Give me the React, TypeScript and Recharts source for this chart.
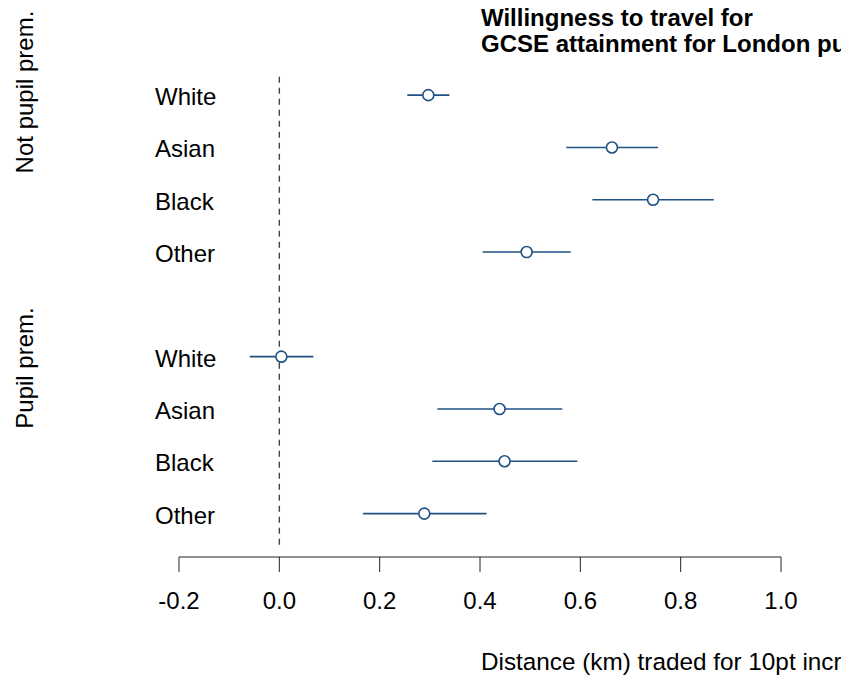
import React from 'react';
import { ErrorBar, ReferenceLine, Scatter, ScatterChart, XAxis, YAxis } from 'recharts';

const groups = ['Not pupil prem.', 'Pupil prem.'];
const categories = ['White', 'Asian', 'Black', 'Other'];

// point estimate and 95% interval, one array per group
const notPpEst = [0.297, 0.663, 0.745, 0.493];
const notPpLow = [0.255, 0.572, 0.624, 0.405];
const notPpHigh = [0.339, 0.755, 0.866, 0.581];

const ppEst = [0.004, 0.439, 0.449, 0.289];
const ppLow = [-0.059, 0.315, 0.305, 0.167];
const ppHigh = [0.068, 0.564, 0.594, 0.413];

const xTicks = [-0.2, 0, 0.2, 0.4, 0.6, 0.8, 1.0];

const FONT = '"Liberation Sans", Arial, sans-serif';
const BLUE = '#1f5283';
const FS = 24;

const build = (g: number, est: number[], low: number[], high: number[]) =>
  categories.map((cat, i) => ({
    cat,
    group: groups[g],
    row: g * 5 + i,
    est: est[i],
    err: [est[i] - low[i], high[i] - est[i]],
  }));

const data = [...build(0, notPpEst, notPpLow, notPpHigh), ...build(1, ppEst, ppLow, ppHigh)];
const rowTicks = data.map((d) => d.row);

const CategoryTick = (props: any) => {
  const { y, payload } = props;
  const d = data.find((r) => r.row === payload.value);
  return (
    <text x={155} y={y} dy={10} fontSize={FS} fontFamily={FONT} fill="#000" textAnchor="start">
      {d ? d.cat : ''}
    </text>
  );
};

const OpenCircle = (props: any) => (
  <circle cx={props.cx} cy={props.cy} r={5.5} fill="#fff" stroke={BLUE} strokeWidth={1.6} />
);

export default function App() {
  return (
    <div
      style={{
        position: 'absolute',
        left: 0,
        top: 0,
        width: 841,
        height: 675,
        overflow: 'hidden',
        background: '#fff',
        fontFamily: FONT,
      }}
    >
      <ScatterChart width={841} height={675} margin={{ top: 69, right: 60, left: 0, bottom: 0 }}>
        <XAxis
          type="number"
          dataKey="est"
          domain={[-0.2, 1.0]}
          ticks={xTicks}
          tickFormatter={(v: number) => v.toFixed(1)}
          tickSize={15}
          tickMargin={20}
          height={118}
          stroke="#222"
          tick={{ fontSize: FS, fill: '#000', fontFamily: FONT }}
          allowDataOverflow
        />
        <YAxis
          type="number"
          dataKey="row"
          domain={[-0.5, 8.83]}
          reversed
          ticks={rowTicks}
          interval={0}
          width={179}
          axisLine={false}
          tickLine={false}
          tick={<CategoryTick />}
        />
        <ReferenceLine
          segment={[
            { x: 0, y: -0.35 },
            { x: 0, y: 8.65 },
          ]}
          stroke="#444"
          strokeWidth={1.4}
          strokeDasharray="6 5"
        />
        <Scatter data={data} shape={<OpenCircle />} isAnimationActive={false}>
          <ErrorBar dataKey="err" direction="x" width={0} stroke={BLUE} strokeWidth={1.6} />
        </Scatter>
      </ScatterChart>

      <div
        style={{
          position: 'absolute',
          left: 481,
          top: 5,
          fontWeight: 'bold',
          fontSize: 24,
          lineHeight: '26px',
          whiteSpace: 'nowrap',
          color: '#000',
        }}
      >
        <div>Willingness to travel for</div>
        <div>GCSE attainment for London pupils</div>
      </div>

      <div
        style={{
          position: 'absolute',
          left: 481,
          top: 648,
          fontSize: 24.3,
          lineHeight: '28px',
          whiteSpace: 'nowrap',
          color: '#000',
        }}
      >
        Distance (km) traded for 10pt increase
      </div>

      {[
        { label: groups[0], cy: 92 },
        { label: groups[1], cy: 368 },
      ].map((g) => (
        <div
          key={g.label}
          style={{
            position: 'absolute',
            left: 25,
            top: g.cy,
            fontSize: FS,
            whiteSpace: 'nowrap',
            color: '#000',
            transform: 'translate(-50%, -50%) rotate(-90deg)',
          }}
        >
          {g.label}
        </div>
      ))}
    </div>
  );
}
